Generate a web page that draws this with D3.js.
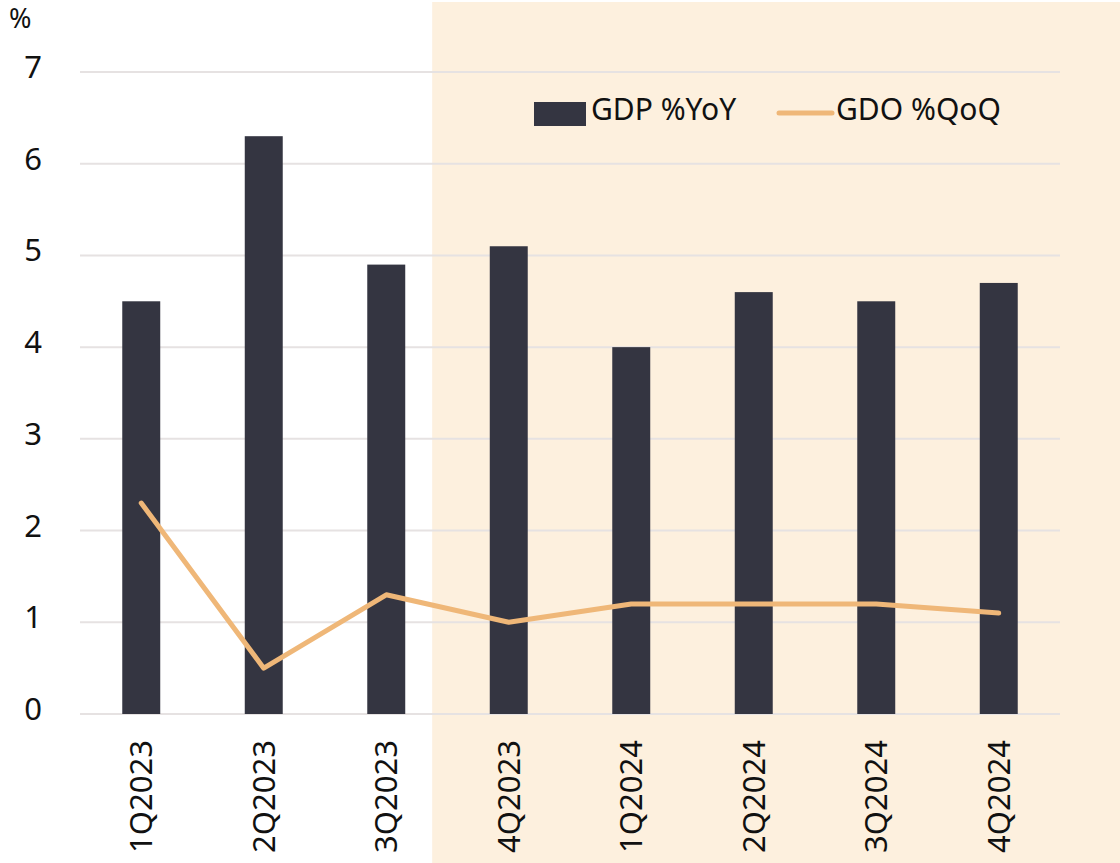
<html>
<script src="https://d3js.org/d3.v7.min.js"></script>
<style> body {margin:0; background:#fff;} text {font-family: "Noto Sans", sans-serif; fill:#111;} </style>
<body>
<svg width=1120 height=863></svg>
<script>
// data
var quarters = ["1Q2023","2Q2023","3Q2023","4Q2023","1Q2024","2Q2024","3Q2024","4Q2024"];
var gdpYoY = [4.5, 6.3, 4.9, 5.1, 4.0, 4.6, 4.5, 4.7];
var gdoQoQ = [2.3, 0.5, 1.3, 1.0, 1.2, 1.2, 1.2, 1.1];
var yTicks = [0, 1, 2, 3, 4, 5, 6, 7];

var svg = d3.select("svg");
var plotL = 80, plotR = 1060, plotT = 72, plotB = 714;

var xs = d3.scaleBand().domain(quarters).range([plotL, plotR]).paddingInner(0.69).paddingOuter(0.345);
var ys = d3.scaleLinear().domain([0, 7]).range([plotB, plotT]);

/// shaded area, starts a bit after the 3Q2023 bar
var shadeX = xs("3Q2023") + xs.bandwidth() + xs.step() * 0.22;
svg.append("rect")
  .attr("x", shadeX).attr("y", 2)
  .attr("width", 1120 - shadeX).attr("height", 863)
  .attr("fill", "#fdf0de");

/// gridlines
svg.append("g").selectAll("line").data(yTicks).enter().append("line")
  .attr("x1", plotL).attr("x2", plotR)
  .attr("y1", function(d) {return ys(d);}).attr("y2", function(d) {return ys(d);})
  .attr("stroke", "#e6e2e2").attr("stroke-width", 2);

/// y labels
svg.append("g").selectAll("text").data(yTicks).enter().append("text")
  .attr("x", 33).attr("y", function(d) {return ys(d) + 6;})
  .attr("text-anchor", "middle")
  .style("font-size", "31px")
  .text(function(d) {return d;});

svg.append("text").attr("x", 9).attr("y", 28).style("font-size", "27px").text("%");

/// bars
svg.append("g").selectAll("rect").data(gdpYoY).enter().append("rect")
  .attr("x", function(d, i) {return xs(quarters[i]);})
  .attr("y", function(d) {return ys(d);})
  .attr("width", xs.bandwidth())
  .attr("height", function(d) {return ys(0) - ys(d);})
  .attr("fill", "#343541");

/// line
var line = d3.line()
  .x(function(d, i) {return xs(quarters[i]) + xs.bandwidth() / 2;})
  .y(function(d) {return ys(d);});
svg.append("path").datum(gdoQoQ)
  .attr("d", line)
  .attr("fill", "none")
  .attr("stroke", "#efb778")
  .attr("stroke-width", 5)
  .attr("stroke-linecap", "round")
  .attr("stroke-linejoin", "round");

/// x labels rotated
svg.append("g").selectAll("text").data(quarters).enter().append("text")
  .attr("transform", function(d) {return "translate(" + (xs(d) + xs.bandwidth() / 2 + 11) + "," + 740 + ") rotate(-90)";})
  .attr("text-anchor", "end")
  .style("font-size", "31px")
  .text(function(d) {return d;});

/// legend
svg.append("rect").attr("x", 534).attr("y", 102).attr("width", 52).attr("height", 24).attr("fill", "#343541");
svg.append("text").attr("x", 591).attr("y", 120).style("font-size", "30px").text("GDP %YoY");
svg.append("line").attr("x1", 779).attr("x2", 832).attr("y1", 113).attr("y2", 113)
  .attr("stroke", "#efb778").attr("stroke-width", 5).attr("stroke-linecap", "round");
svg.append("text").attr("x", 836).attr("y", 120).style("font-size", "30px").text("GDO %QoQ");
</script>
</body>
</html>
